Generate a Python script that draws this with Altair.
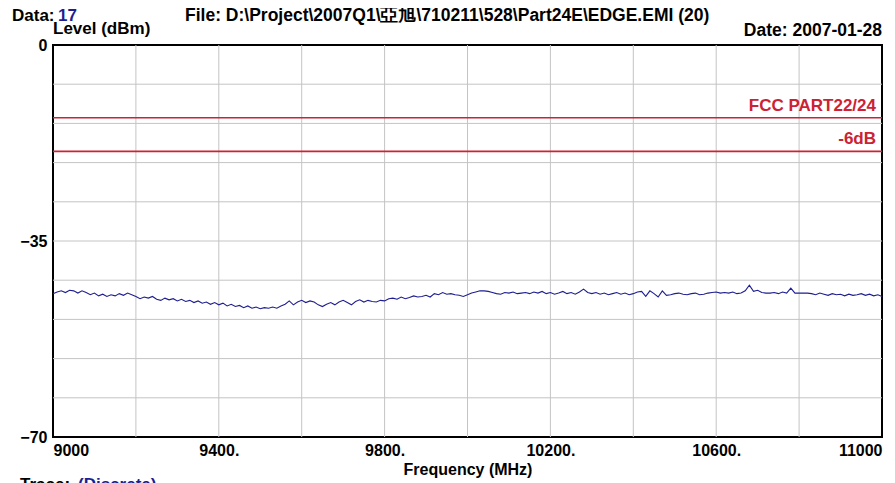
import altair as alt
import pandas as pd

# ---- data ----
freq = list(range(9000, 11001, 10))
level = [
    -44.4, -44.1, -43.9, -44.2, -43.8, -43.9, -44.3, -43.9, -44.2, -44.6,
    -44.3, -44.8, -44.5, -44.9, -44.6, -44.8, -44.4, -44.7, -44.3, -44.6,
    -44.9, -45.3, -45.0, -45.2, -44.9, -45.4, -45.6, -45.2, -45.5, -45.3,
    -45.7, -45.4, -45.8, -45.6, -46.0, -45.7, -46.1, -45.9, -46.3, -46.0,
    -46.4, -46.1, -46.6, -46.3, -46.7, -46.5, -46.9, -46.6, -47.0, -46.8,
    -47.1, -46.9, -47.0, -46.8, -47.0, -46.6, -46.3, -45.7, -46.4, -45.9,
    -45.6, -46.0, -45.7, -45.9, -46.4, -46.7, -46.3, -46.0, -46.4, -45.9,
    -45.6, -46.0, -46.4, -45.8, -45.5, -45.9, -45.6, -45.8, -45.9, -45.6,
    -45.7, -45.3, -45.2, -45.4, -45.0, -45.3, -45.1, -44.8, -45.0, -44.9,
    -44.7, -45.0, -44.4, -44.6, -44.2, -44.5, -44.4, -44.6, -44.7, -44.9,
    -44.6, -44.3, -44.1, -43.9, -43.9, -44.0, -44.2, -44.4, -44.5, -44.2,
    -44.3, -44.1, -44.4, -44.3, -44.2, -44.4, -44.1, -44.3, -44.0, -44.4,
    -44.2, -44.5, -44.3, -44.0, -44.4, -44.2, -44.5, -44.1, -43.6, -44.2,
    -44.4, -44.2, -44.5, -44.3, -44.6, -44.4, -44.2, -44.5, -44.3, -44.6,
    -44.4, -44.1, -44.0, -44.9, -43.9, -44.4, -45.0, -43.9, -44.7, -44.6,
    -44.4, -44.3, -44.5, -44.6, -44.4, -44.3, -44.6, -44.5, -44.3, -44.2,
    -44.1, -44.3, -44.2, -44.3, -44.1, -44.4, -44.3, -43.9, -42.9, -44.0,
    -43.8, -44.2, -44.3, -44.3, -44.2, -44.4, -44.1, -44.3, -43.4, -44.3,
    -44.3, -44.3, -44.3, -44.4, -44.6, -44.3, -44.5, -44.7, -44.4, -44.6,
    -44.5, -44.8, -44.5, -44.7, -44.6, -44.4, -44.7, -44.5, -44.8, -44.6,
    -44.9,
]
limit_names = ["FCC PART22/24", "-6dB"]
limit_levels = [-13, -19]
x_grid = [9200, 9400, 9600, 9800, 10000, 10200, 10400, 10600, 10800]
y_grid = [-7, -14, -21, -28, -35, -42, -49, -56, -63]
x_label_values = [9000, 9400, 9800, 10200, 10600, 11000]
y_label_values = [0, -35, -70]

W, H = 829, 392
FONT = "Liberation Sans, Arial, sans-serif"
BLUE = "#1e1e90"
RED = "#cc2233"

xs = alt.Scale(domain=[9000, 11000], nice=False, zero=False)
ys = alt.Scale(domain=[-70, 0], nice=False, zero=False)

trace_df = pd.DataFrame({"freq": freq, "level": level})
lim_df = pd.DataFrame({"name": limit_names, "level": limit_levels})

vgrid = alt.Chart(pd.DataFrame({"f": x_grid})).mark_rule(
    color="#c4c4c4", strokeWidth=1
).encode(x=alt.X("f:Q", scale=xs, axis=None))

hgrid = alt.Chart(pd.DataFrame({"l": y_grid})).mark_rule(
    color="#c4c4c4", strokeWidth=1
).encode(y=alt.Y("l:Q", scale=ys, axis=None))

limits = alt.Chart(lim_df).mark_rule(color=RED, strokeWidth=1.6).encode(
    y=alt.Y("level:Q", scale=ys, axis=None)
)
limit_text = alt.Chart(lim_df).mark_text(
    align="right", baseline="bottom", dy=-3, font=FONT, fontWeight="bold",
    fontSize=17, color=RED
).encode(
    y=alt.Y("level:Q", scale=ys, axis=None),
    x=alt.value(W - 6),
    text="name:N",
)

trace = alt.Chart(trace_df).mark_line(color=BLUE, strokeWidth=1.1).encode(
    x=alt.X(
        "freq:Q", scale=xs,
        axis=alt.Axis(
            values=x_label_values, grid=False, ticks=False, domain=False,
            labelExpr="(datum.value == 9000 || datum.value == 11000) ? format(datum.value, 'd') : format(datum.value, 'd') + '.'",
            labelFlush=True, labelPadding=5, labelFont=FONT, labelFontWeight="bold",
            labelFontSize=16, labelColor="black",
            title="Frequency (MHz)", titleFont=FONT, titleFontWeight="bold",
            titleFontSize=16, titleColor="black", titlePadding=3,
        ),
    ),
    y=alt.Y(
        "level:Q", scale=ys,
        axis=alt.Axis(
            values=y_label_values, grid=False, ticks=False, domain=False,
            labelPadding=6, labelFont=FONT, labelFontWeight="bold",
            labelFontSize=16, labelColor="black", labelFlush=False, title=None,
        ),
    ),
)


def txt(s, x, y, color="black", size=17, align="left"):
    return alt.Chart(pd.DataFrame({"t": [s]})).mark_text(
        align=align, baseline="alphabetic", font=FONT, fontWeight="bold",
        fontSize=size, color=color
    ).encode(x=alt.value(x), y=alt.value(y), text="t:N")


header = [
    txt("Data:", -41, -24.5, size=17),
    txt("17", 5, -24.5, color=BLUE, size=17),
    txt("File: D:\\Project\\2007Q1\\亞旭\\710211\\528\\Part24E\\EDGE.EMI  (20)", 132, -24.5, size=17.5),
    txt("Level (dBm)", 0, -11, size=17),
    txt("Date: 2007-01-28", W, -9, size=17.5, align="right"),
    txt("Trace:", -33, 53 + H, size=17),
    txt("(Discrete)", 25, 53 + H, color=BLUE, size=17),
]

chart = alt.layer(vgrid, hgrid, limits, limit_text, trace, *header).resolve_axis(
    x="independent", y="independent"
).properties(
    width=W, height=H,
    autosize=alt.AutoSizeParams(type="none"),
    padding={"left": 45, "top": 37, "right": 5, "bottom": 46},
    background="white",
).configure_view(stroke="black", strokeWidth=2)

chart.save("out.html", embed_options={"renderer": "svg", "actions": False})
